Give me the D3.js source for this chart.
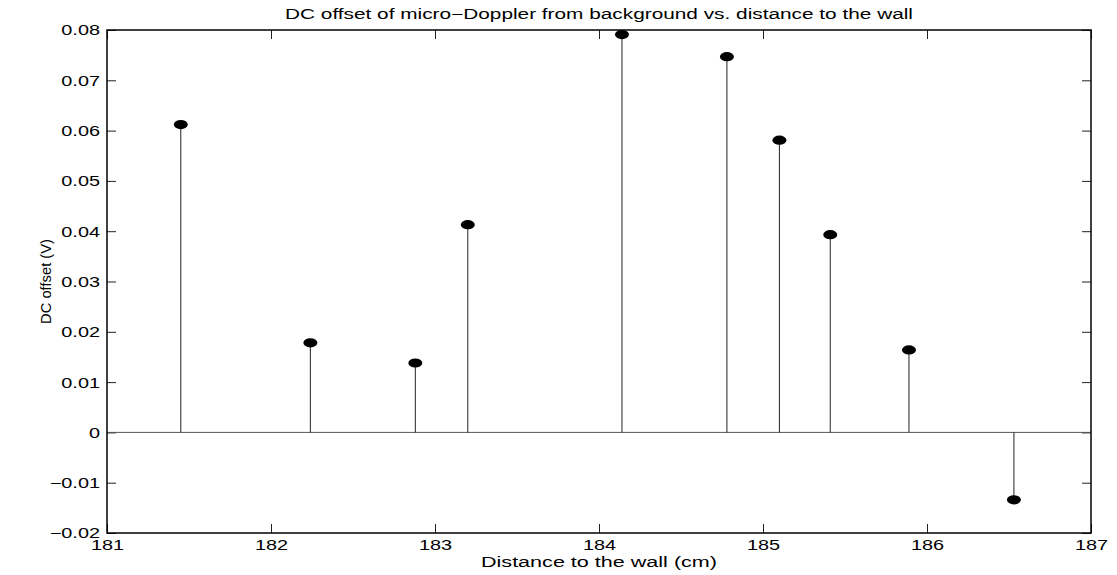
<!DOCTYPE html>
<html>
<head>
<meta charset="utf-8">
<script src="https://cdn.jsdelivr.net/npm/d3@7"></script>
<style>
  body { margin: 0; background: #fff; }
  svg text { font-family: "Liberation Sans", Arial, Helvetica, sans-serif; }
</style>
</head>
<body>
<script>
// data
var distances = [181.45, 182.24, 182.88, 183.20, 184.14, 184.78, 185.10, 185.41, 185.89, 186.53];
var offsets   = [0.0612, 0.0178, 0.0138, 0.0413, 0.0791, 0.0747, 0.0581, 0.0393, 0.0164, -0.0134];
var xTicks = [181, 182, 183, 184, 185, 186, 187];
var yTicks = [-0.02, -0.01, 0, 0.01, 0.02, 0.03, 0.04, 0.05, 0.06, 0.07, 0.08];

var width = 1117, height = 575;
var margin = {left: 107, right: 26, top: 30, bottom: 42};
var stretch = 'scale(1.42,1)';   // the original's fonts are wide

var svg = d3.select('body').append('svg')
  .attr('width', width)
  .attr('height', height);

var x = d3.scaleLinear().domain([181, 187]).range([margin.left, width - margin.right]);
var y = d3.scaleLinear().domain([-0.02, 0.08]).range([height - margin.bottom, margin.top]);

function fmt(v) {
  if (v === 0) return '0';
  var s = Math.abs(v).toFixed(2);
  return (v < 0 ? '\u2212' : '') + s;
}

var tickLen = 9;

// bottom / top axes, ticks pointing inward
svg.append('g')
  .attr('transform', 'translate(0,' + y.range()[0] + ')')
  .call(d3.axisBottom(x).tickValues(xTicks).tickSize(-tickLen).tickFormat(d3.format('d')))
  .call(function(g) {
    g.select('.domain').remove();
    g.selectAll('text').attr('font-size', 14).attr('fill', '#000')
      .attr('y', 17).attr('dy', 0).attr('transform', stretch);
  });
svg.append('g')
  .attr('transform', 'translate(0,' + y.range()[1] + ')')
  .call(d3.axisTop(x).tickValues(xTicks).tickSize(-tickLen).tickFormat(''))
  .call(function(g) { g.select('.domain').remove(); });

// left / right axes
svg.append('g')
  .attr('transform', 'translate(' + x.range()[0] + ',0)')
  .call(d3.axisLeft(y).tickValues(yTicks).tickSize(-tickLen).tickFormat(fmt))
  .call(function(g) {
    g.select('.domain').remove();
    g.selectAll('text').attr('font-size', 14).attr('fill', '#000')
      .attr('x', 0).attr('dy', '0.35em')
      .attr('transform', 'translate(-7,0) ' + stretch);
  });
svg.append('g')
  .attr('transform', 'translate(' + x.range()[1] + ',0)')
  .call(d3.axisRight(y).tickValues(yTicks).tickSize(-tickLen).tickFormat(''))
  .call(function(g) { g.select('.domain').remove(); });

svg.selectAll('.tick line').attr('stroke', '#222');

// zero baseline
svg.append('line')
  .attr('x1', x(181)).attr('x2', x(187))
  .attr('y1', y(0)).attr('y2', y(0))
  .attr('stroke', '#555').attr('stroke-width', 1);

// stems
svg.selectAll('line.stem').data(distances)
  .enter().append('line')
  .attr('class', 'stem')
  .attr('x1', function(d) { return x(d); })
  .attr('x2', function(d) { return x(d); })
  .attr('y1', y(0))
  .attr('y2', function(d, i) { return y(offsets[i]); })
  .attr('stroke', '#222').attr('stroke-width', 1);

// markers
svg.selectAll('ellipse.pt').data(distances)
  .enter().append('ellipse')
  .attr('class', 'pt')
  .attr('cx', function(d) { return x(d); })
  .attr('cy', function(d, i) { return y(offsets[i]); })
  .attr('rx', 7).attr('ry', 4.6)
  .attr('fill', '#000');

// box
svg.append('rect')
  .attr('x', x.range()[0]).attr('y', y.range()[1])
  .attr('width', x.range()[1] - x.range()[0])
  .attr('height', y.range()[0] - y.range()[1])
  .attr('fill', 'none').attr('stroke', '#000').attr('stroke-width', 1.5);

// labels
svg.append('text')
  .attr('x', (x.range()[0] + x.range()[1]) / 2).attr('y', 19)
  .attr('text-anchor', 'middle').attr('font-size', 14)
  .attr('textLength', 628).attr('lengthAdjust', 'spacingAndGlyphs')
  .text('DC offset of micro\u2212Doppler from background vs. distance to the wall');

svg.append('text')
  .attr('x', (x.range()[0] + x.range()[1]) / 2).attr('y', 567)
  .attr('text-anchor', 'middle').attr('font-size', 14)
  .attr('textLength', 236).attr('lengthAdjust', 'spacingAndGlyphs')
  .text('Distance to the wall (cm)');

svg.append('text')
  .attr('transform', 'translate(51,' + ((y.range()[0] + y.range()[1]) / 2) + ') rotate(-90)')
  .attr('text-anchor', 'middle').attr('font-size', 14)
  .attr('textLength', 85).attr('lengthAdjust', 'spacingAndGlyphs')
  .text('DC offset (V)');
</script>
</body>
</html>
